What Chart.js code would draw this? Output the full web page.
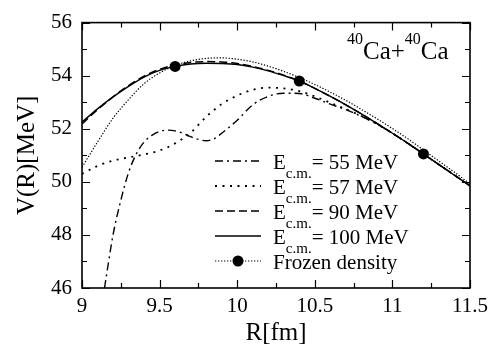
<!DOCTYPE html>
<html>
<head>
<meta charset="utf-8">
<script src="https://cdn.jsdelivr.net/npm/chart.js@4/dist/chart.umd.min.js"></script>
<style>
  html, body { margin: 0; padding: 0; background: #fff; }
  #warm { font-family: 'Liberation Serif'; font-size: 21px; position: absolute; left: 0; top: 0; z-index: 0; }
  #potChart { position: relative; z-index: 1; background: #fff; display: block; }
</style>
</head>
<body>
<span id="warm">Ca 40 E c.m. R[fm] V(R)[MeV] Frozen density</span>
<canvas id="potChart" width="502" height="348"></canvas>
<script>
// R grid (fm) shared by most curves
const rGrid = [9.0, 9.1, 9.2, 9.3, 9.4, 9.5, 9.6, 9.7, 9.8, 9.9, 10.0, 10.1, 10.2,
               10.3, 10.4, 10.5, 10.6, 10.7, 10.8, 10.9, 11.0, 11.1, 11.2, 11.3, 11.4, 11.5];

// V(R) in MeV
const v100 = [52.25, 52.75, 53.2, 53.6, 53.95, 54.2, 54.35, 54.44, 54.47, 54.46, 54.42, 54.32, 54.18,
              54.0, 53.8, 53.52, 53.22, 52.9, 52.56, 52.2, 51.83, 51.45, 51.05, 50.65, 50.25, 49.85];
const v90 = [52.18, 52.72, 53.2, 53.63, 53.98, 54.24, 54.4, 54.5, 54.53, 54.52, 54.46, 54.35, 54.2,
             54.02, 53.8, 53.52, 53.22, 52.9, 52.56, 52.2, 51.83, 51.45, 51.05, 50.65, 50.25, 49.85];
const v57 = [50.3, 50.6, 50.8, 50.92, 51.03, 51.18, 51.45, 51.85, 52.45, 52.93, 53.25, 53.47, 53.55,
             53.52, 53.42, 53.22, 52.98, 52.74, 52.48, 52.18, 51.83, 51.45, 51.05, 50.65, 50.25, 49.85];
const vFrozen = [50.55, 51.5, 52.4, 53.1, 53.7, 54.1, 54.38, 54.56, 54.65, 54.67, 54.62, 54.52, 54.36,
                 54.16, 53.93, 53.67, 53.38, 53.07, 52.73, 52.38, 52.01, 51.62, 51.2, 50.78, 50.36, 49.93];

// 55 MeV curve comes in from below the frame
const r55 = [9.145, 9.2, 9.25, 9.3, 9.35, 9.4, 9.45, 9.5, 9.55, 9.6, 9.65, 9.7, 9.75, 9.8, 9.85, 9.9,
             10.0, 10.1, 10.2, 10.3, 10.4, 10.5, 10.6, 10.7, 10.8, 10.9, 11.0, 11.1, 11.2, 11.3, 11.4, 11.5];
const v55 = [46.0, 48.0, 49.3, 50.35, 51.05, 51.5, 51.75, 51.9, 51.95, 51.92, 51.83, 51.7, 51.6, 51.55, 51.62, 51.83,
             52.32, 52.9, 53.22, 53.34, 53.33, 53.15, 52.93, 52.72, 52.47, 52.18, 51.83, 51.45, 51.05, 50.65, 50.25, 49.85];

// frozen density markers
const dotR = [9.6, 10.4, 11.2];
const dotV = [54.35, 53.8, 51.05];

// axis ticks
const xTicks = [9, 9.5, 10, 10.5, 11, 11.5];
const yTicks = [46, 48, 50, 52, 54, 56];

const energies = ['55', '57', '90', '100'];

function pts(xs, ys) {
    return xs.map((x, i) => ({ x: x, y: ys[i] }));
}

const serif = "'Liberation Serif'";

// Frame, inward ticks (major + minor) on all four sides
const framePlugin = {
    id: 'frame',
    afterDatasetsDraw(chart) {
        const ctx = chart.ctx;
        const a = chart.chartArea;
        const xs = chart.scales.x, ys = chart.scales.y;
        ctx.save();
        ctx.strokeStyle = '#000';
        ctx.lineWidth = 1.6;
        ctx.strokeRect(a.left, a.top, a.right - a.left, a.bottom - a.top);
        ctx.lineWidth = 1.2;
        ctx.beginPath();
        for (let v = 9; v <= 11.5001; v += 0.25) {
            const px = Math.round(xs.getPixelForValue(v)) + 0.5;
            const len = Math.abs(v * 2 - Math.round(v * 2)) < 0.01 ? 8 : 5;
            ctx.moveTo(px, a.bottom); ctx.lineTo(px, a.bottom - len);
            ctx.moveTo(px, a.top); ctx.lineTo(px, a.top + len);
        }
        for (let v = 46; v <= 56; v += 1) {
            const py = Math.round(ys.getPixelForValue(v)) + 0.5;
            const len = v % 2 === 0 ? 8 : 5;
            ctx.moveTo(a.left, py); ctx.lineTo(a.left + len, py);
            ctx.moveTo(a.right, py); ctx.lineTo(a.right - len, py);
        }
        ctx.stroke();
        ctx.restore();
    },
    afterDraw(chart) {
        const ctx = chart.ctx;
        ctx.save();
        ctx.fillStyle = '#000';
        ctx.textBaseline = 'alphabetic';

        // 40Ca+40Ca label
        let x = 347;
        ctx.font = '16px ' + serif;
        ctx.fillText('40', x, 44);
        x += ctx.measureText('40').width;
        ctx.font = '25px ' + serif;
        ctx.fillText('Ca+', x, 59);
        x += ctx.measureText('Ca+').width;
        ctx.font = '16px ' + serif;
        ctx.fillText('40', x, 44);
        x += ctx.measureText('40').width;
        ctx.font = '25px ' + serif;
        ctx.fillText('Ca', x, 59);

        // legend
        const lx0 = 215, lx1 = 261, tx = 273;
        const rowY = [161, 186, 211, 236, 261];
        const ds = chart.data.datasets;
        for (let i = 0; i < 5; i++) {
            const d = ds[i];
            const y = rowY[i];
            ctx.strokeStyle = '#000';
            ctx.lineWidth = d.borderWidth;
            ctx.setLineDash(d.borderDash || []);
            ctx.beginPath();
            ctx.moveTo(lx0, y);
            ctx.lineTo(lx1, y);
            ctx.stroke();
            ctx.setLineDash([]);
            if (i === 4) {
                ctx.beginPath();
                ctx.arc((lx0 + lx1) / 2, y, 5.5, 0, Math.PI * 2);
                ctx.fill();
                ctx.font = '21px ' + serif;
                ctx.fillText('Frozen density', tx, y + 8);
            } else {
                let t = tx;
                ctx.font = '21px ' + serif;
                ctx.fillText('E', t, y + 8);
                t += ctx.measureText('E').width;
                ctx.font = '15px ' + serif;
                ctx.fillText('c.m.', t, y + 17);
                t += ctx.measureText('c.m.').width;
                ctx.font = '21px ' + serif;
                ctx.fillText('= ' + energies[i] + ' MeV', t, y + 8);
            }
        }
        ctx.restore();
    }
};

const ctx = document.getElementById('potChart').getContext('2d');
const chart = new Chart(ctx, {
    type: 'line',
    data: {
        datasets: [
            { label: 'Ec.m.= 55 MeV', data: pts(r55, v55), borderColor: '#000', borderWidth: 1.4, borderDash: [8, 4, 2, 4] },
            { label: 'Ec.m.= 57 MeV', data: pts(rGrid, v57), borderColor: '#000', borderWidth: 1.8, borderDash: [2, 5.5] },
            { label: 'Ec.m.= 90 MeV', data: pts(rGrid, v90), borderColor: '#000', borderWidth: 1.5, borderDash: [8, 4] },
            { label: 'Ec.m.= 100 MeV', data: pts(rGrid, v100), borderColor: '#000', borderWidth: 1.4 },
            { label: 'Frozen density', data: pts(rGrid, vFrozen), borderColor: '#000', borderWidth: 1.2, borderDash: [1.3, 1.7] },
            { label: 'dots', data: pts(dotR, dotV), showLine: false, pointRadius: 5.5, pointBackgroundColor: '#000', pointBorderWidth: 0 }
        ]
    },
    options: {
        responsive: false,
        animation: false,
        devicePixelRatio: 1,
        layout: { padding: { left: 0, top: 15, right: 32, bottom: 0 } },
        elements: {
            line: { cubicInterpolationMode: 'monotone', fill: false },
            point: { radius: 0 }
        },
        plugins: { legend: { display: false }, tooltip: { enabled: false } },
        scales: {
            x: {
                type: 'linear', min: 9, max: 11.5,
                afterFit(s) { s.height = 60; },
                afterBuildTicks(s) { s.ticks = xTicks.map(v => ({ value: v })); },
                grid: { display: false, drawTicks: false },
                border: { display: false },
                ticks: { color: '#000', padding: 6, maxRotation: 0, autoSkip: false,
                         font: { family: serif, size: 21 }, callback: v => String(v) },
                title: { display: true, text: 'R[fm]', color: '#000', padding: { top: 0, bottom: 0 },
                         font: { family: serif, size: 25 } }
            },
            y: {
                min: 46, max: 56,
                afterFit(s) { s.width = 82; },
                afterBuildTicks(s) { s.ticks = yTicks.map(v => ({ value: v })); },
                grid: { display: false, drawTicks: false },
                border: { display: false },
                ticks: { color: '#000', padding: 10, font: { family: serif, size: 21 }, callback: v => String(v) },
                title: { display: true, text: 'V(R)[MeV]', color: '#000', padding: { top: 12, bottom: 0 },
                         font: { family: serif, size: 25 } }
            }
        }
    },
    plugins: [framePlugin]
});

// redraw once the serif face is really available
document.body.offsetHeight;
if (document.fonts) {
    document.fonts.ready.then(() => chart.update('none'));
}
window.addEventListener('load', () => chart.update('none'));
</script>
</body>
</html>
